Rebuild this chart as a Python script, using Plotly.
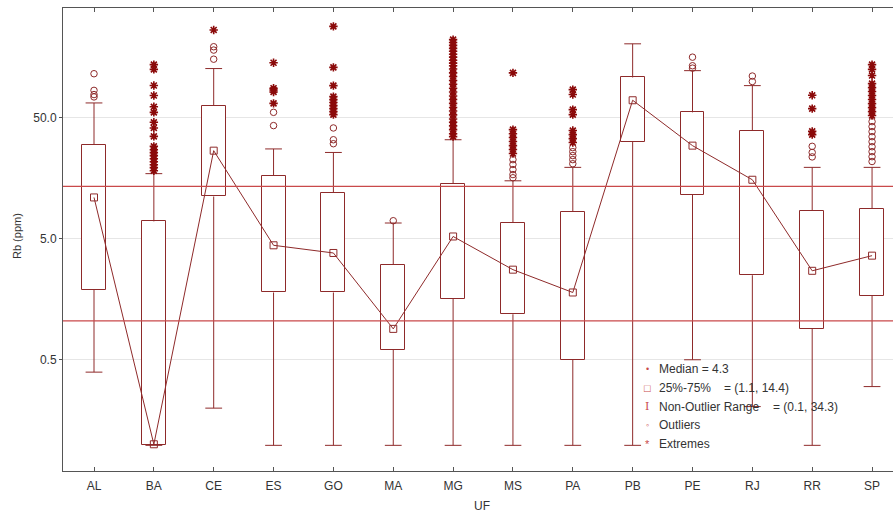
import plotly.graph_objects as go

# ---------------- data ----------------
categories = ["AL", "BA", "CE", "ES", "GO", "MA", "MG", "MS", "PA", "PB", "PE", "RJ", "RR", "SP"]
medians = [11.0, 0.10, 26.8, 4.42, 3.82, 0.90, 5.23, 2.78, 1.80, 70.0, 29.5, 15.4, 2.72, 3.63]
q1 = [1.90, 0.098, 11.2, 1.80, 1.80, 0.605, 1.59, 1.19, 0.50, 31.6, 11.6, 2.50, 0.90, 1.69]
q3 = [30.1, 6.97, 63.2, 16.7, 12.0, 3.06, 14.3, 6.76, 8.34, 108, 55.6, 39.3, 8.55, 8.83]
whisker_low = [0.395, 0.098, 0.199, 0.098, 0.098, 0.098, 0.098, 0.098, 0.098, 0.098, 0.50, 0.205, 0.098, 0.30]
whisker_high = [66.5, 17.3, 128, 27.7, 25.9, 6.76, 33.0, 15.1, 19.5, 205, 123, 92.5, 19.5, 19.5]

outliers = {
    "AL": [116, 84.5, 78, 74.6],
    "CE": [194, 182, 153],
    "ES": [55.6, 43.2],
    "GO": [41.3, 33.0, 30.6],
    "MA": [7.06],
    "MS": [22.6, 20.6, 18.7, 17.0, 16.0],
    "PA": [28.4, 26.3, 24.4, 22.6, 20.9],
    "PE": [159, 135, 129],
    "RJ": [111, 100],
    "RR": [29.1, 25.9, 23.8],
    "SP": [46.6, 42.4, 38.5, 35.0, 31.8, 28.9, 26.3, 23.9, 21.8],
}
extremes = {
    "BA": [138, 126, 92.7, 76.6, 61.8, 55.6, 46.0, 41.3, 35.2, 29.1, 27.3, 25.8, 24.4, 23.0, 21.7, 20.5, 19.4, 18.3],
    "CE": [267],
    "ES": [143, 88, 85, 82, 66],
    "GO": [286, 131, 92.5, 75, 70.8, 67, 63.2, 59.7, 56.4, 53.2],
    "MG": [222, 210, 199, 188, 178, 168, 159, 150, 142, 135, 127, 118, 110, 102, 95, 88, 82, 76, 71, 66,
           61, 57, 53, 49, 46, 43, 40, 37, 35],
    "MS": [118, 40, 37, 34.4, 31.9, 29.5, 27.4, 25.4],
    "PA": [85.7, 78, 58.6, 53.2, 39.3, 36.4, 33.7, 31.3],
    "RR": [76.9, 59.7, 38.7, 36.4],
    "SP": [138, 126, 112, 96, 89, 82.6, 76.6, 71, 65.7, 60.8, 56.4, 52.3],
}
ref_lines = [13.6, 1.05]  # overall 25% / 75% lines
y_tick_vals = [0.5, 5, 50]
y_tick_text = ["0.5", "5.0", "50.0"]

legend_labels = ["Median = 4.3", "25%-75%", "Non-Outlier Range", "Outliers", "Extremes"]
legend_values = ["", "= (1.1, 14.4)", "= (0.1, 34.3)", "", ""]
legend_symbols = ["•", "□", "I", "◦", "*"]

# ---------------- styling ----------------
DARK = "#8E2A2A"
MAROON = "#8B0A0A"
REF = "#C9494A"
FONT = "Liberation Sans, Arial, sans-serif"

fig = go.Figure()

# boxes (25%-75%)
fig.add_trace(go.Bar(
    x=categories,
    base=q1,
    y=[b - a for a, b in zip(q1, q3)],
    width=0.4,
    marker=dict(color="white", line=dict(color=DARK, width=1)),
    hoverinfo="skip",
    showlegend=False,
))

# whiskers
wx, wy = [], []
for c, a, b, lo, hi in zip(categories, q1, q3, whisker_low, whisker_high):
    wx += [c, c, None, c, c, None]
    wy += [b, hi, None, a, lo, None]
fig.add_trace(go.Scatter(x=wx, y=wy, mode="lines", line=dict(color=DARK, width=1),
                         hoverinfo="skip", showlegend=False))
fig.add_trace(go.Scatter(x=categories + categories, y=whisker_high + whisker_low, mode="markers",
                         marker=dict(symbol="line-ew-open", size=12, color=DARK,
                                     line=dict(color=DARK, width=1)),
                         hoverinfo="skip", showlegend=False))

# outliers
ox, oy = [], []
for c, vals in outliers.items():
    ox += [c] * len(vals)
    oy += vals
fig.add_trace(go.Scatter(x=ox, y=oy, mode="markers",
                         marker=dict(symbol="circle-open", size=6.5, color=DARK, line=dict(width=1)),
                         showlegend=False))

# extremes
ex, ey = [], []
for c, vals in extremes.items():
    ex += [c] * len(vals)
    ey += vals
fig.add_trace(go.Scatter(x=ex, y=ey, mode="markers",
                         marker=dict(symbol="asterisk-open", size=7, color=MAROON,
                                     line=dict(width=1.6, color=MAROON)),
                         showlegend=False))

# median line
fig.add_trace(go.Scatter(x=categories, y=medians, mode="lines+markers",
                         line=dict(color=DARK, width=1),
                         marker=dict(symbol="square-open", size=7, color=DARK, line=dict(width=1)),
                         showlegend=False))

for v in ref_lines:
    fig.add_hline(y=v, line=dict(color=REF, width=1.2), layer="above")

# plot area on the page: x 63..893 (continues past the right edge), y 8..471
PL, PT, PR, PB_ = 63, 8, 893, 471
PW, PH = PR - PL, PB_ - PT


def px(x):
    return (x - PL) / PW


def py(y):
    return (PB_ - y) / PH


leg_y0 = 369
for i, (lab, val, sym) in enumerate(zip(legend_labels, legend_values, legend_symbols)):
    ypix = leg_y0 + i * 18.8
    fig.add_annotation(x=px(647), y=py(ypix), xref="paper", yref="paper", text=sym,
                       showarrow=False, xanchor="center", yanchor="middle",
                       font=dict(family="DejaVu Serif" if sym == "I" else FONT,
                                 size=9 if sym in ("•", "◦") else 11, color=REF))
    fig.add_annotation(x=px(657), y=py(ypix), xref="paper", yref="paper", text=lab,
                       showarrow=False, xanchor="left", yanchor="middle",
                       font=dict(family=FONT, size=12, color="#333333"))
    if val:
        vx = 722 if i == 1 else 771
        fig.add_annotation(x=px(vx), y=py(ypix), xref="paper", yref="paper", text=val,
                           showarrow=False, xanchor="left", yanchor="middle",
                           font=dict(family=FONT, size=12, color="#333333"))

# axis titles
fig.add_annotation(x=px(17), y=py(236), xref="paper", yref="paper",
                   text="Rb (ppm)", textangle=-90, showarrow=False,
                   xanchor="center", yanchor="middle",
                   font=dict(family=FONT, size=11, color="#333333"))
fig.add_annotation(x=px(482), y=py(506), xref="paper", yref="paper",
                   text="UF", showarrow=False, xanchor="center", yanchor="middle",
                   font=dict(family=FONT, size=12, color="#333333"))

fig.update_layout(
    width=893, height=513,
    margin=dict(l=PL, r=893 - PR, t=PT, b=513 - PB_, autoexpand=False),
    plot_bgcolor="white", paper_bgcolor="white",
    bargap=0, showlegend=False,
    font=dict(family=FONT, size=12, color="#333333"),
)
fig.update_xaxes(
    type="category", range=[-0.518, 13.35], automargin=False,
    showline=True, linecolor="#555555", linewidth=1, mirror="ticks",
    ticks="inside", ticklen=4, tickcolor="#555555", ticklabelstandoff=4,
    showgrid=False, tickfont=dict(family=FONT, size=12, color="#333333"),
)
fig.update_yaxes(
    type="log", range=[-1.221, 2.608], automargin=False,
    tickvals=y_tick_vals, ticktext=y_tick_text,
    showline=True, linecolor="#555555", linewidth=1, mirror=False,
    ticks="outside", ticklen=3, tickcolor="#555555",
    showgrid=True, gridcolor="#E6E6E6", gridwidth=1, zeroline=False,
    tickfont=dict(family=FONT, size=12, color="#333333"),
)

fig.write_html("out.html", config={"displayModeBar": False},
               post_script="document.body.style.margin='0';")
